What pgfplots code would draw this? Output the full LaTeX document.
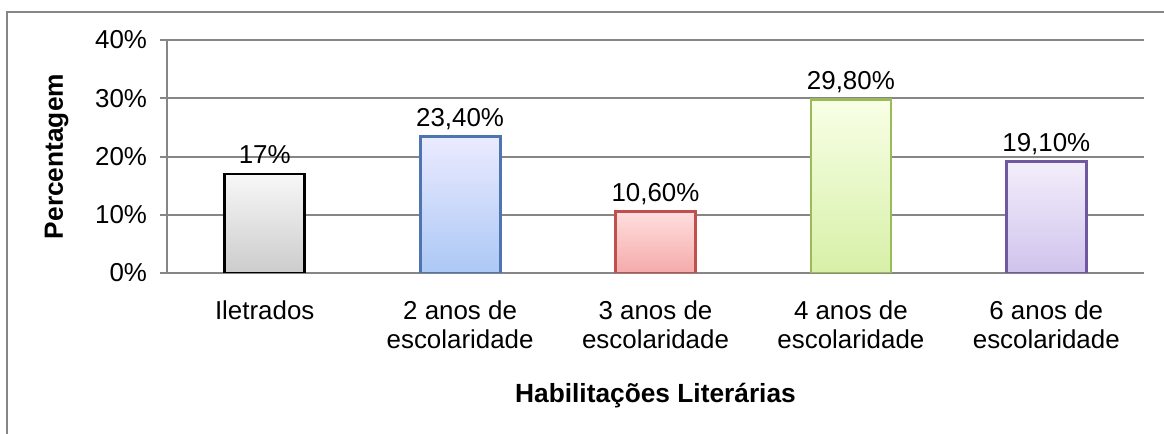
\documentclass[border=0pt]{standalone}
\usepackage{fontspec}
\setmainfont{Liberation Sans}
\usepackage{pgfplots}
\pgfplotsset{compat=1.18}

\definecolor{gridgray}{RGB}{134,134,134}
\definecolor{edgeblue}{RGB}{79,116,178}
\definecolor{edgered}{RGB}{192,80,77}
\definecolor{edgegreen}{RGB}{155,187,89}
\definecolor{edgepurple}{RGB}{112,88,160}

\begin{document}
\begin{tikzpicture}
\useasboundingbox (0,0) rectangle (582bp,217bp);
\clip (0,0) rectangle (582bp,217bp);
\draw[gridgray, line width=1bp] (3.5bp,-10bp) rectangle (600bp,211bp);
\begin{axis}[
  at={(83.5bp,80.5bp)}, anchor=south west,
  scale only axis, width=488.5bp, height=116.5bp,
  xmin=-0.5, xmax=4.5, ymin=0, ymax=40,
  axis x line=bottom, axis y line=left,
  axis line style={gridgray, line width=1bp, -},
  ybar, bar width=40bp, bar shift=0pt,
  ymajorgrids, grid style={gridgray, line width=1bp},
  ytick={0,10,20,30,40},
  yticklabels={0\%,10\%,20\%,30\%,40\%},
  tick align=outside, major tick length=3.5bp,
  ytick style={gridgray, line width=1bp},
  xtick={0,1,2,3,4}, xtick style={draw=none},
  xticklabels={Iletrados, {2 anos de\\escolaridade}, {3 anos de\\escolaridade},
    {4 anos de\\escolaridade}, {6 anos de\\escolaridade}},
  tick label style={font=\fontsize{13}{14.5}\selectfont},
  x tick label style={align=center, anchor=north, yshift=-7bp},
  y tick label style={xshift=-3bp},
  xlabel={Habilitações Literárias},
  ylabel={Percentagem},
  label style={font=\fontsize{13.2}{15}\selectfont\bfseries},
  xlabel style={at={(axis description cs:0.5,-0.524)}, anchor=center},
  ylabel style={at={(axis description cs:-0.113,0.5)}, anchor=center, rotate=0},
  point meta=explicit symbolic,
  nodes near coords,
  every node near coord/.append style={font=\fontsize{13}{14}\selectfont, text=black, anchor=base, yshift=5bp},
]
\addplot[draw=black, line width=1.4bp, top color=gray!6, bottom color=gray!40] coordinates {(0,17) [17\%]};
\addplot[draw=edgeblue, line width=1.4bp, top color=blue!8!white, bottom color={rgb,255:red,172;green,200;blue,245}] coordinates {(1,23.4) [23,40\%]};
\addplot[draw=edgered, line width=1.4bp, top color={rgb,255:red,255;green,222;blue,222}, bottom color={rgb,255:red,245;green,170;blue,170}] coordinates {(2,10.6) [10,60\%]};
\addplot[draw=edgegreen, line width=1.4bp, top color={rgb,255:red,248;green,255;blue,230}, bottom color={rgb,255:red,215;green,240;blue,168}] coordinates {(3,29.8) [29,80\%]};
\addplot[draw=edgepurple, line width=1.4bp, top color={rgb,255:red,243;green,238;blue,252}, bottom color={rgb,255:red,208;green,195;blue,236}] coordinates {(4,19.1) [19,10\%]};
\end{axis}
\end{tikzpicture}
\end{document}
